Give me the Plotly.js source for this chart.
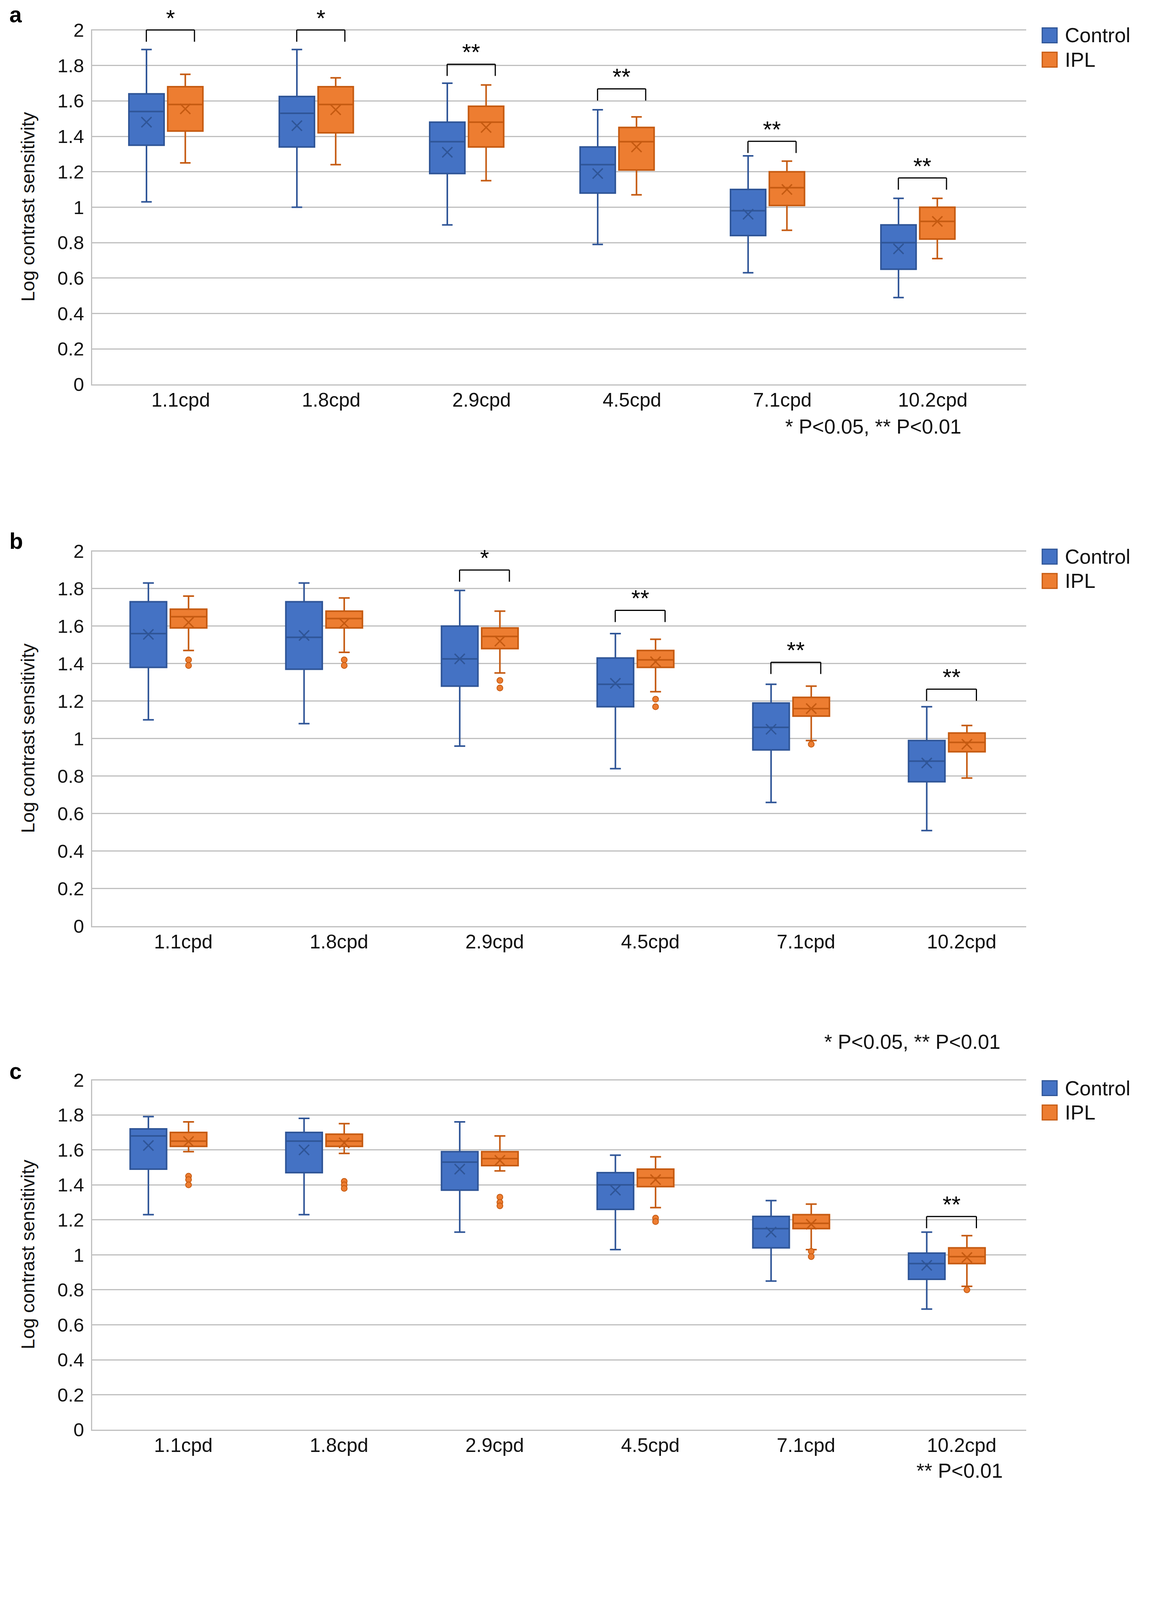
<!DOCTYPE html>
<html><head><meta charset="utf-8">
<script src="https://cdn.plot.ly/plotly-3.0.1.min.js"></script>
<style>
html,body{margin:0;padding:0;background:#fff;overflow:hidden}
.panel{width:2949px;position:relative;overflow:hidden}
</style>
</head><body>
<div id="pa" class="panel"></div>
<div id="pb" class="panel"></div>
<div id="pc" class="panel"></div>
<script>
// ---------------- DATA ----------------
const categories = ['1.1cpd', '1.8cpd', '2.9cpd', '4.5cpd', '7.1cpd', '10.2cpd'];
const seriesNames = ['Control', 'IPL'];

// Panel a
const aCtrlMin  = [1.03, 1.00, 0.90, 0.79, 0.63, 0.49];
const aCtrlQ1   = [1.35, 1.34, 1.19, 1.08, 0.84, 0.65];
const aCtrlMed  = [1.54, 1.53, 1.37, 1.24, 0.98, 0.80];
const aCtrlQ3   = [1.64, 1.625, 1.48, 1.34, 1.10, 0.90];
const aCtrlMax  = [1.89, 1.89, 1.70, 1.55, 1.29, 1.05];
const aCtrlMean = [1.48, 1.46, 1.31, 1.19, 0.96, 0.765];
const aIplMin   = [1.25, 1.24, 1.15, 1.07, 0.87, 0.71];
const aIplQ1    = [1.43, 1.42, 1.34, 1.21, 1.01, 0.82];
const aIplMed   = [1.58, 1.58, 1.48, 1.37, 1.11, 0.92];
const aIplQ3    = [1.68, 1.68, 1.57, 1.45, 1.20, 1.00];
const aIplMax   = [1.75, 1.73, 1.69, 1.51, 1.26, 1.05];
const aIplMean  = [1.555, 1.55, 1.45, 1.34, 1.10, 0.92];
const aIplOutX  = [];
const aIplOutY  = [];
const aSig      = ['*', '*', '**', '**', '**', '**'];
const aNote     = '* P<0.05, ** P<0.01';

// Panel b
const bCtrlMin  = [1.10, 1.08, 0.96, 0.84, 0.66, 0.51];
const bCtrlQ1   = [1.38, 1.37, 1.28, 1.17, 0.94, 0.77];
const bCtrlMed  = [1.56, 1.54, 1.425, 1.29, 1.06, 0.88];
const bCtrlQ3   = [1.73, 1.73, 1.60, 1.43, 1.19, 0.99];
const bCtrlMax  = [1.83, 1.83, 1.79, 1.56, 1.29, 1.17];
const bCtrlMean = [1.556, 1.55, 1.425, 1.295, 1.05, 0.87];
const bIplMin   = [1.47, 1.46, 1.35, 1.25, 0.99, 0.79];
const bIplQ1    = [1.59, 1.59, 1.48, 1.38, 1.12, 0.93];
const bIplMed   = [1.65, 1.64, 1.545, 1.42, 1.16, 0.98];
const bIplQ3    = [1.69, 1.68, 1.59, 1.47, 1.22, 1.03];
const bIplMax   = [1.76, 1.75, 1.68, 1.53, 1.28, 1.07];
const bIplMean  = [1.62, 1.615, 1.52, 1.41, 1.16, 0.97];
const bIplOutX  = ['1.1cpd', '1.1cpd', '1.8cpd', '1.8cpd', '2.9cpd', '2.9cpd', '4.5cpd', '4.5cpd', '7.1cpd'];
const bIplOutY  = [1.42, 1.39, 1.42, 1.39, 1.31, 1.27, 1.21, 1.17, 0.97];
const bSig      = ['', '', '*', '**', '**', '**'];
const bNote     = '* P<0.05, ** P<0.01';

// Panel c
const cCtrlMin  = [1.23, 1.23, 1.13, 1.03, 0.85, 0.69];
const cCtrlQ1   = [1.49, 1.47, 1.37, 1.26, 1.04, 0.86];
const cCtrlMed  = [1.68, 1.65, 1.53, 1.40, 1.15, 0.95];
const cCtrlQ3   = [1.72, 1.70, 1.59, 1.47, 1.22, 1.01];
const cCtrlMax  = [1.79, 1.78, 1.76, 1.57, 1.31, 1.13];
const cCtrlMean = [1.625, 1.60, 1.49, 1.37, 1.13, 0.94];
const cIplMin   = [1.59, 1.58, 1.48, 1.27, 1.03, 0.82];
const cIplQ1    = [1.62, 1.62, 1.51, 1.39, 1.15, 0.95];
const cIplMed   = [1.65, 1.65, 1.55, 1.44, 1.18, 0.99];
const cIplQ3    = [1.70, 1.69, 1.59, 1.49, 1.23, 1.04];
const cIplMax   = [1.76, 1.75, 1.68, 1.56, 1.29, 1.11];
const cIplMean  = [1.648, 1.64, 1.54, 1.43, 1.175, 0.985];
const cIplOutX  = ['1.1cpd', '1.1cpd', '1.1cpd', '1.8cpd', '1.8cpd', '1.8cpd', '2.9cpd', '2.9cpd', '2.9cpd', '4.5cpd', '4.5cpd', '7.1cpd', '7.1cpd', '10.2cpd'];
const cIplOutY  = [1.45, 1.43, 1.40, 1.42, 1.40, 1.38, 1.33, 1.30, 1.28, 1.21, 1.19, 1.02, 0.99, 0.80];
const cSig      = ['', '', '', '', '', '**'];
const cNote     = '** P<0.01';

const yTitle = 'Log contrast sensitivity';

// ---------------- STYLE / LAYOUT ----------------
const W = 2949, HREF = 5455;
// fit the whole figure into the visible window height (vertical fit only)
const S = Math.min(1, (window.innerHeight || HREF) / HREF);
const FS = Math.sqrt(S);               // font scale used when the height is reduced
const f = v => Math.round(v * FS);
const FONT = 'Liberation Sans, Arial, sans-serif';
const colors = {
  Control: { fill: '#4472C4', line: '#2F5597' },
  IPL:     { fill: '#ED7D31', line: '#C55A11' }
};
const gridColor = '#BFBFBF';

// bracket heights (y of bracket top, in axis units) - placement only
const aBracketTop = [2.0, 2.0, 1.807, 1.668, 1.372, 1.165];
const bBracketTop = [null, null, 1.899, 1.684, 1.407, 1.264];
const cBracketTop = [null, null, null, null, null, 1.219];

// panel geometry in reference-page pixels
const panels = [
  { key: 'a', div: 'pa', oy: 0, h: 1700, top: 100, bottom: 1311, xrange: [-0.49, 5.72],
    ctrl: [aCtrlMin, aCtrlQ1, aCtrlMed, aCtrlQ3, aCtrlMax, aCtrlMean],
    ipl: [aIplMin, aIplQ1, aIplMed, aIplQ3, aIplMax, aIplMean],
    outX: aIplOutX, outY: aIplOutY, sig: aSig, bTop: aBracketTop,
    note: aNote, noteX: 2235, noteY: 1455, letterY: 43, legMid: 162 },
  { key: 'b', div: 'pb', oy: 1700, h: 1900, top: 1877, bottom: 3159, xrange: [-0.49, 5.51],
    ctrl: [bCtrlMin, bCtrlQ1, bCtrlMed, bCtrlQ3, bCtrlMax, bCtrlMean],
    ipl: [bIplMin, bIplQ1, bIplMed, bIplQ3, bIplMax, bIplMean],
    outX: bIplOutX, outY: bIplOutY, sig: bSig, bTop: bBracketTop,
    note: bNote, noteX: 2335, noteY: 3553, letterY: 1845, legMid: 1940 },
  { key: 'c', div: 'pc', oy: 3600, h: 1855, top: 3681, bottom: 4877, xrange: [-0.49, 5.51],
    ctrl: [cCtrlMin, cCtrlQ1, cCtrlMed, cCtrlQ3, cCtrlMax, cCtrlMean],
    ipl: [cIplMin, cIplQ1, cIplMed, cIplQ3, cIplMax, cIplMean],
    outX: cIplOutX, outY: cIplOutY, sig: cSig, bTop: cBracketTop,
    note: cNote, noteX: 2456, noteY: 5016, letterY: 3653, legMid: 3753 }
];

panels.forEach(p => {
  const hPx = Math.floor(p.h * S);
  document.getElementById(p.div).style.height = hPx + 'px';
  const px = v => v / W;
  const py = v => 1 - (v - p.oy) / p.h;
  const traces = [];
  const shapes = [];
  const annotations = [];
  const groups = [['Control', p.ctrl, 'ctrl'], ['IPL', p.ipl, 'ipl']];
  groups.forEach(([name, s, og]) => {
    traces.push({
      type: 'box', name: name, x: categories,
      lowerfence: s[0], q1: s[1], median: s[2], q3: s[3], upperfence: s[4],
      offsetgroup: og, alignmentgroup: 'g',
      fillcolor: colors[name].fill, line: { color: colors[name].line, width: 4 },
      whiskerwidth: 0.3, boxpoints: false, hoverinfo: 'skip'
    });
  });
  groups.forEach(([name, s, og]) => {
    traces.push({
      type: 'scatter', mode: 'markers', name: name + ' mean', x: categories, y: s[5],
      offsetgroup: og, alignmentgroup: 'g',
      marker: { symbol: 'x-thin-open', size: 26, color: colors[name].line,
                line: { width: 3.5, color: colors[name].line } },
      hoverinfo: 'skip'
    });
  });
  if (p.outX.length) {
    traces.push({
      type: 'scatter', mode: 'markers', name: 'IPL outliers', x: p.outX, y: p.outY,
      offsetgroup: 'ipl', alignmentgroup: 'g',
      marker: { symbol: 'circle', size: 15, color: colors.IPL.fill,
                line: { width: 2, color: colors.IPL.line } },
      hoverinfo: 'skip'
    });
  }

  // significance brackets
  const pxPerUnit = (p.bottom - p.top) / 2;
  const leg = 40 / pxPerUnit;
  const shift = 0.03, half = 0.16;
  p.sig.forEach((sg, i) => {
    if (!sg) return;
    const yt = p.bTop[i], yb = yt - leg;
    const x0 = i + shift - half, x1 = i + shift + half;
    const ln = { color: '#000', width: 3 };
    shapes.push({ type: 'line', xref: 'x', yref: 'y', x0: x0, x1: x0, y0: yb, y1: yt, line: ln });
    shapes.push({ type: 'line', xref: 'x', yref: 'y', x0: x0, x1: x1, y0: yt, y1: yt, line: ln });
    shapes.push({ type: 'line', xref: 'x', yref: 'y', x0: x1, x1: x1, y0: yb, y1: yt, line: ln });
    annotations.push({ xref: 'x', yref: 'y', x: i + shift, y: yt, yshift: Math.round(40 * S),
      text: sg, showarrow: false, xanchor: 'center', yanchor: 'middle',
      font: { family: FONT, size: f(68), color: '#000' } });
  });

  // p-value note
  annotations.push({ xref: 'paper', yref: 'paper', x: px(p.noteX), y: py(p.noteY),
    text: p.note, showarrow: false, xanchor: 'center', yanchor: 'middle',
    font: { family: FONT, size: f(60), color: '#111' } });
  // panel letter (kept inside the top edge)
  const letterFont = f(66);
  const ly = Math.max(p.letterY, p.oy + (0.62 * letterFont + 2) / S);
  annotations.push({ xref: 'paper', yref: 'paper', x: px(22), y: py(ly),
    text: '<b>' + p.key + '</b>', showarrow: false, xanchor: 'left', yanchor: 'middle',
    font: { family: FONT, size: letterFont, color: '#000' } });
  // legend (square swatches + labels); item pitch in real pixels
  const legFont = f(60);
  const pitch = Math.max(77 * S, 1.2 * legFont) / S;   // in reference px
  const sq = 19 / S;
  seriesNames.forEach((name, j) => {
    const cy = p.legMid + (j - 0.5) * pitch;
    shapes.push({ type: 'rect', xref: 'paper', yref: 'paper',
      x0: px(2668), x1: px(2706), y0: py(cy + sq), y1: py(cy - sq),
      fillcolor: colors[name].fill, line: { color: colors[name].line, width: 3 } });
    annotations.push({ xref: 'paper', yref: 'paper', x: px(2724), y: py(cy),
      text: name, showarrow: false, xanchor: 'left', yanchor: 'middle',
      font: { family: FONT, size: legFont, color: '#111' } });
  });

  const layout = {
    width: W, height: hPx,
    margin: { l: 0, r: 0, t: 0, b: 0 },
    paper_bgcolor: '#fff', plot_bgcolor: '#fff',
    showlegend: false,
    boxmode: 'group', boxgap: 0.484, boxgroupgap: 0.093,
    scattermode: 'group', scattergap: 0.484,
    font: { family: FONT, color: '#111' },
    xaxis: {
      type: 'category', domain: [px(236), px(2627)], range: p.xrange,
      showgrid: false, zeroline: false, showline: true, linecolor: gridColor, linewidth: 3,
      ticks: '', ticklabelstandoff: S < 1 ? -6 : 2, ticklabelshift: 38,
      tickfont: { family: FONT, size: f(58), color: '#111' }, fixedrange: true
    },
    yaxis: {
      domain: [py(p.bottom), py(p.top)], range: [0, 2.004],
      dtick: 0.2, tick0: 0, showgrid: true, gridcolor: gridColor, gridwidth: 3,
      zeroline: false, showline: true, linecolor: gridColor, linewidth: 3,
      ticks: '', ticklabelstandoff: 8,
      tickfont: { family: FONT, size: f(56), color: '#111' },
      title: { text: yTitle, font: { family: FONT, size: f(55), color: '#111' }, standoff: 44 },
      fixedrange: true
    },
    shapes: shapes, annotations: annotations
  };
  Plotly.newPlot(p.div, traces, layout, { staticPlot: true, displayModeBar: false });
});
</script></body></html>
